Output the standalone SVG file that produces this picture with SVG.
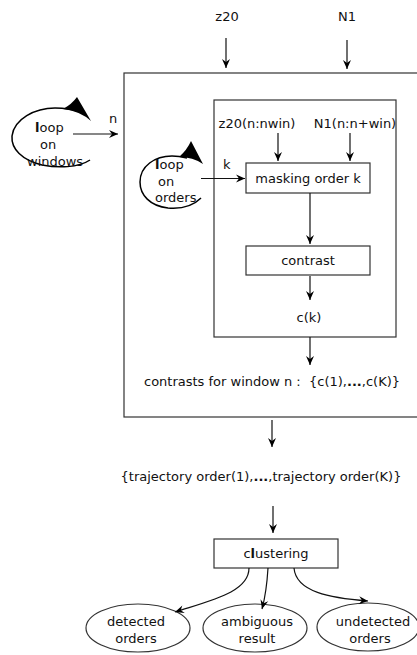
<svg xmlns="http://www.w3.org/2000/svg" width="417" height="655" viewBox="0 0 417 655">
<style>
text{font-family:"DejaVu Sans","Liberation Sans",sans-serif;font-size:13px;fill:#111}
.c{text-anchor:middle}
.box{fill:#fff;stroke:#333;stroke-width:1.2}
.ln{fill:none;stroke:#111;stroke-width:1.2}
.arr{fill:none;stroke:#111;stroke-width:1.2;marker-end:url(#ah)}
.loop{fill:none;stroke:#000;stroke-width:1.5}
</style>
<defs>
<marker id="ah" viewBox="-10 -5 11 10" refX="0" refY="0" markerWidth="11" markerHeight="10" orient="auto" markerUnits="userSpaceOnUse">
<path d="M0,0 L-9,-4 L-6,0 L-9,4 Z" fill="#000"/>
</marker>
</defs>
<rect width="417" height="655" fill="#fff"/>

<g id="outer"><rect class="box" x="124" y="73" width="300" height="344"/></g>
<g id="inner"><rect class="box" x="214" y="100" width="182" height="237"/></g>

<g id="in-z20"><text class="c" x="227" y="21">z20</text></g>
<g id="in-N1"><text class="c" x="347" y="21">N1</text></g>

<g id="loop-windows">
<path class="loop" d="M90,160 C78,168 58,168 42,165 C22,160 11,149 12,136 C14,119 35,108 55,108 C64,108 72,109 80,112"/>
<path d="M63,109 Q72,104 77,97 L91,121 Q80,111 63,109 Z" fill="#000"/>
<text x="35" y="132"><tspan font-weight="bold">l</tspan>oop</text>
<text x="40" y="149">on</text>
<text x="27" y="166">windows</text>
</g>
<g id="label-n"><text x="109" y="123">n</text></g>

<g id="sub-z20"><text class="c" x="257" y="128">z20(n:nwin)</text></g>
<g id="sub-N1"><text class="c" x="355" y="128">N1(n:n+win)</text></g>

<g id="loop-orders">
<path class="loop" d="M201,198 C192,207 180,209 168,208 C150,206 140,195 140,182 C140,166 155,156 172,156 C178,156 183,157 187,158"/>
<path d="M179,157 Q187,150 191,141 L203,164 Q193,157 179,157 Z" fill="#000"/>
<text x="155" y="169"><tspan font-weight="bold">l</tspan>oop</text>
<text x="158" y="186">on</text>
<text x="155" y="202">orders</text>
</g>
<g id="label-k"><text x="223" y="169">k</text></g>

<g id="masking"><rect class="box" x="246" y="163" width="124" height="30"/><text class="c" x="308" y="183">masking order k</text></g>
<g id="contrast"><rect class="box" x="246" y="246" width="124" height="29"/><text class="c" x="308" y="265">contrast</text></g>
<g id="ck"><text class="c" x="309" y="322">c(k)</text></g>
<g id="contrasts"><text x="144" y="386" style="white-space:pre">contrasts for window n :  {c(1),<tspan font-weight="bold">...</tspan>,c(K)}</text></g>
<g id="trajectory"><text class="c" x="261" y="481">{trajectory order(1),<tspan font-weight="bold">...</tspan>,trajectory order(K)}</text></g>
<g id="clustering"><rect class="box" x="214" y="539" width="124" height="29"/><text class="c" x="276" y="558">c<tspan font-weight="bold">l</tspan>ustering</text></g>

<g id="detected"><ellipse class="box" cx="138" cy="628" rx="52" ry="24"/><text class="c" x="136" y="626">detected</text><text class="c" x="136" y="643">orders</text></g>
<g id="ambiguous"><ellipse class="box" cx="255" cy="628" rx="52" ry="24"/><text class="c" x="257" y="626">ambiguous</text><text class="c" x="257" y="643">result</text></g>
<g id="undetected"><ellipse class="box" cx="368" cy="627" rx="51" ry="24"/><text class="c" x="373" y="626">undetected</text><text class="c" x="370" y="643">orders</text></g>

<g id="connectors">
<line class="arr" x1="226" y1="38" x2="226" y2="68"/>
<line class="arr" x1="347" y1="40" x2="347" y2="69"/>
<line class="arr" x1="73" y1="134" x2="118" y2="134"/>
<line class="arr" x1="278" y1="133" x2="278" y2="161"/>
<line class="arr" x1="350" y1="133" x2="350" y2="161"/>
<line class="arr" x1="201" y1="178.5" x2="245" y2="178.5"/>
<line class="arr" x1="310" y1="193" x2="310" y2="244"/>
<line class="arr" x1="310" y1="276" x2="310" y2="300"/>
<line class="arr" x1="310" y1="337" x2="310" y2="365"/>
<line class="arr" x1="272" y1="420" x2="272" y2="447"/>
<line class="arr" x1="273" y1="506" x2="273" y2="533"/>
<path class="arr" d="M249,568 C249,592 212,600 175,612"/>
<path class="arr" d="M268,568 C267,585 265,598 262,609"/>
<path class="arr" d="M294,568 C296,592 330,598 368,601"/>
</g>
</svg>
